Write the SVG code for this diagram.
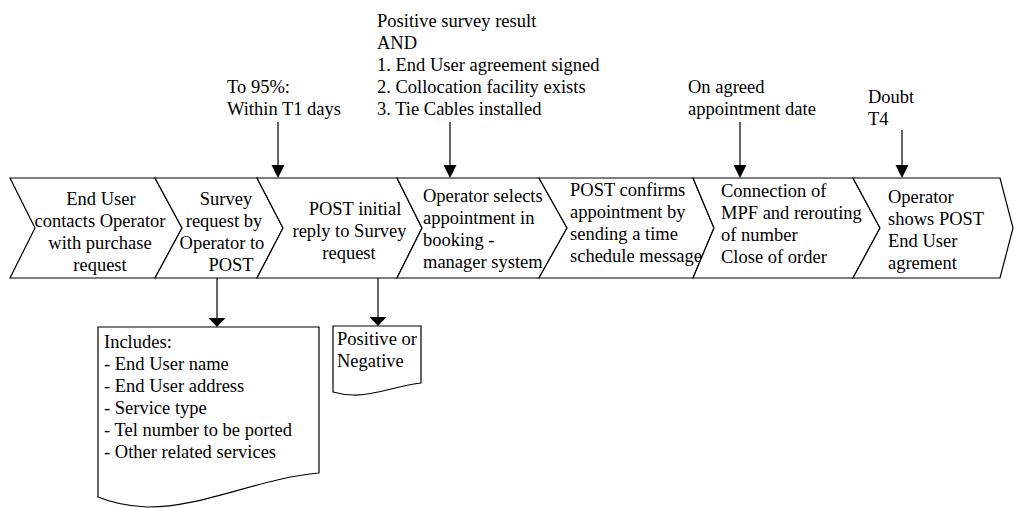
<svg xmlns="http://www.w3.org/2000/svg" width="1014" height="508" viewBox="0 0 1014 508">
<style>
.shape{fill:#fff;stroke:#000;stroke-width:1.2;stroke-linejoin:miter}
.line{stroke:#000;stroke-width:1.2;fill:none}
.head{fill:#000;stroke:none}
text{font-family:"Liberation Serif","Times New Roman",serif;font-size:18.5px;fill:#000}
.c{text-anchor:middle}
</style>
<rect width="1014" height="508" fill="#fff"/>
<g id="step1">
<polygon class="shape" points="10,178 155,178 182,228 155,278 10,278 35,228"/>
<text class="c" x="101" y="205">End User</text>
<text class="c" x="100" y="227">contacts Operator</text>
<text class="c" x="100" y="249">with purchase</text>
<text class="c" x="100" y="271">request</text>
</g>
<g id="step2">
<polygon class="shape" points="155,178 257,178 283,228 257,278 155,278 182,228"/>
<text class="c" x="226" y="205">Survey</text>
<text class="c" x="224" y="227">request by</text>
<text class="c" x="222" y="249">Operator to</text>
<text class="c" x="231" y="271">POST</text>
</g>
<g id="step3">
<polygon class="shape" points="257,178 397,178 422,228 397,278 257,278 283,228"/>
<text class="c" x="355" y="215">POST initial</text>
<text class="c" x="349.5" y="237">reply to Survey</text>
<text class="c" x="349" y="259">request</text>
</g>
<g id="step4">
<polygon class="shape" points="397,178 539,178 567,228 539,278 397,278 422,228"/>
<text x="423" y="202">Operator selects</text>
<text x="423" y="224">appointment in</text>
<text x="423" y="246">booking -</text>
<text x="423" y="268">manager system</text>
</g>
<g id="step5">
<polygon class="shape" points="539,178 693,178 714,228 693,278 539,278 567,228"/>
<text x="570" y="196">POST confirms</text>
<text x="570" y="218">appointment by</text>
<text x="570" y="240">sending a time</text>
<text x="570" y="262">schedule message</text>
</g>
<g id="step6">
<polygon class="shape" points="693,178 853,178 880,228 853,278 693,278 714,228"/>
<text x="721" y="197">Connection of</text>
<text x="721" y="219">MPF and rerouting</text>
<text x="721" y="241">of number</text>
<text x="721" y="263">Close of order</text>
</g>
<g id="step7">
<polygon class="shape" points="853,178 1000,178 1013,228 1000,278 853,278 880,228"/>
<text x="888" y="203">Operator</text>
<text x="888" y="225">shows POST</text>
<text x="888" y="247">End User</text>
<text x="888" y="269">agrement</text>
</g>
<g id="note-t1">
<text x="227" y="93">To 95%:</text>
<text x="227" y="115">Within T1 days</text>
</g>
<g id="note-conditions">
<text x="377" y="27">Positive survey result</text>
<text x="377" y="49">AND</text>
<text x="377" y="71">1. End User agreement signed</text>
<text x="377" y="93">2. Collocation facility exists</text>
<text x="377" y="115">3. Tie Cables installed</text>
</g>
<g id="note-date">
<text x="688" y="93">On agreed</text>
<text x="688" y="115">appointment date</text>
</g>
<g id="note-doubt">
<text x="868" y="103">Doubt</text>
<text x="868" y="125">T4</text>
</g>
<g id="doc-includes">
<path class="shape" d="M98,327 H319 V473 C260,478 200,508 147,507 C125,506 110,502 98,497 Z"/>
<text x="104" y="348">Includes:</text>
<text x="104" y="370">- End User name</text>
<text x="104" y="392">- End User address</text>
<text x="104" y="414">- Service type</text>
<text x="104" y="436">- Tel number to be ported</text>
<text x="104" y="458">- Other related services</text>
</g>
<g id="doc-result">
<path class="shape" d="M333,326 H421 V383 C398,385 375,396 353,395 C345,395 340,394 333,392 Z"/>
<text x="337" y="345" textLength="80" lengthAdjust="spacingAndGlyphs">Positive or</text>
<text x="337" y="367">Negative</text>
</g>
<g id="connectors">
<line class="line" x1="278" y1="122" x2="278" y2="166"/>
<polygon class="head" points="271.5,165 284.5,165 278,178"/>
<line class="line" x1="450" y1="122" x2="450" y2="166"/>
<polygon class="head" points="443.5,165 456.5,165 450,178"/>
<line class="line" x1="740" y1="122" x2="740" y2="166"/>
<polygon class="head" points="733.5,165 746.5,165 740,178"/>
<line class="line" x1="902" y1="130" x2="902" y2="166"/>
<polygon class="head" points="895.5,165 908.5,165 902,178"/>
<line class="line" x1="217" y1="278" x2="217" y2="319"/>
<polygon class="head" points="208.5,318 225.5,318 217,327"/>
<line class="line" x1="378" y1="278" x2="378" y2="318"/>
<polygon class="head" points="369.5,317 386.5,317 378,326"/>
</g>
</svg>
